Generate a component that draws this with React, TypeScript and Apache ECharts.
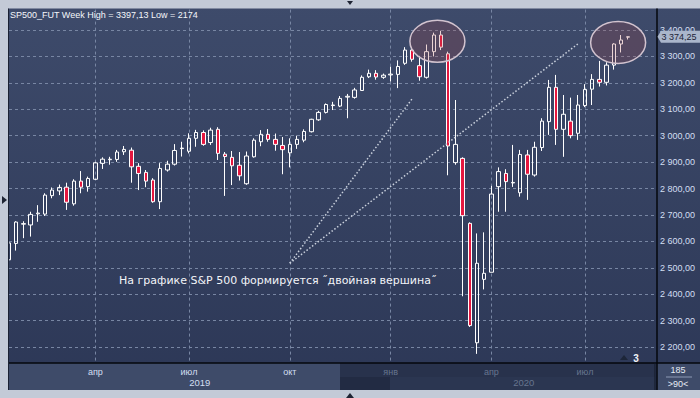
import React, { useEffect, useRef } from 'react';
import * as echarts from 'echarts';

// ---- data ----
const dates = [
  '2019-01-07','2019-01-14','2019-01-21','2019-01-28','2019-02-04','2019-02-11','2019-02-18','2019-02-25',
  '2019-03-04','2019-03-11','2019-03-18','2019-03-25','2019-04-01','2019-04-08','2019-04-15','2019-04-22',
  '2019-04-29','2019-05-06','2019-05-13','2019-05-20','2019-05-27','2019-06-03','2019-06-10','2019-06-17',
  '2019-06-24','2019-07-01','2019-07-08','2019-07-15','2019-07-22','2019-07-29','2019-08-05','2019-08-12',
  '2019-08-19','2019-08-26','2019-09-02','2019-09-09','2019-09-16','2019-09-23','2019-09-30','2019-10-07',
  '2019-10-14','2019-10-21','2019-10-28','2019-11-04','2019-11-11','2019-11-18','2019-11-25','2019-12-02',
  '2019-12-09','2019-12-16','2019-12-23','2019-12-26','2019-12-30','2020-01-02','2020-01-06','2020-01-13',
  '2020-01-20','2020-01-27','2020-02-03','2020-02-10','2020-02-17','2020-02-24','2020-03-02','2020-03-09',
  '2020-03-16','2020-03-23','2020-03-30','2020-04-06','2020-04-13','2020-04-20','2020-04-27','2020-05-04',
  '2020-05-11','2020-05-18','2020-05-25','2020-06-01','2020-06-08','2020-06-15','2020-06-22','2020-06-29',
  '2020-07-06','2020-07-13','2020-07-20','2020-07-27','2020-08-03','2020-08-10','2020-08-17','2020-08-24',
  '2020-08-31','2020-09-07','2020-09-14',
];

const opens = [
  2530, 2592, 2665, 2662, 2704, 2703, 2773, 2791, 2805, 2742, 2828, 2807, 2835, 2895, 2909, 2910,
  2939, 2945, 2884, 2861, 2832, 2750, 2870, 2892, 2951, 2941, 2990, 3012, 2974, 3024, 2930, 2918,
  2888, 2818, 2920, 2977, 3005, 2986, 2963, 2935, 2967, 2983, 3015, 3060, 3088, 3114, 3112, 3146,
  3145, 3171, 3223, 3236, 3221, 3230, 3232, 3274, 3324, 3265, 3221, 3318, 3381, 3310, 2898, 2914,
  2668, 2216, 2456, 2483, 2807, 2857, 2821, 2784, 2927, 2851, 2955, 3053, 3183, 3024, 3055, 3009,
  3114, 3176, 3213, 3202, 3267, 3347, 3373,
];
const closes = [
  2594, 2673, 2667, 2702, 2707, 2775, 2794, 2804, 2748, 2828, 2805, 2838, 2897, 2911, 2911, 2938,
  2948, 2882, 2857, 2828, 2750, 2876, 2892, 2944, 2953, 2990, 3012, 2967, 3021, 2933, 2921, 2886,
  2848, 2923, 2983, 3005, 2986, 2967, 2947, 2967, 2986, 3016, 3062, 3088, 3118, 3116, 3141, 3149,
  3173, 3221, 3236, 3222, 3229, 3233, 3262, 3324, 3289, 3223, 3318, 3381, 3335, 2961, 2967, 2697,
  2281, 2517, 2479, 2779, 2864, 2826, 2823, 2929, 2854, 2956, 3055, 3183, 3024, 3081, 3000, 3116,
  3175, 3213, 3202, 3267, 3347, 3362, 3374.25,
];
const lows = [
  2522, 2565, 2612, 2618, 2674, 2696, 2763, 2775, 2719, 2735, 2782, 2788, 2832, 2874, 2890, 2901,
  2927, 2822, 2794, 2805, 2746, 2722, 2864, 2887, 2921, 2933, 2958, 2962, 2965, 2908, 2772, 2813,
  2830, 2814, 2917, 2960, 2977, 2943, 2854, 2880, 2950, 2975, 3012, 3056, 3084, 3097, 3108, 3066,
  3140, 3170, 3218, 3212, 3215, 3205, 3180, 3268, 3280, 3208, 3216, 3300, 3324, 2850, 2890, 2392,
  2276, 2174, 2418, 2483, 2712, 2712, 2806, 2769, 2757, 2845, 2942, 3003, 2965, 2920, 2990, 2984,
  3108, 3116, 3186, 3190, 3250, 3315, 3364,
];
const highs = [
  2598, 2676, 2676, 2712, 2737, 2782, 2804, 2815, 2822, 2835, 2866, 2845, 2901, 2918, 2920, 2946,
  2961, 2955, 2896, 2870, 2839, 2896, 2905, 2968, 2977, 3009, 3022, 3020, 3030, 3032, 2938, 2942,
  2938, 2940, 2990, 3021, 3025, 3008, 2995, 2990, 3000, 3024, 3064, 3094, 3122, 3128, 3150, 3158,
  3181, 3228, 3250, 3248, 3235, 3261, 3285, 3335, 3335, 3302, 3345, 3390, 3397, 3318, 3135, 2918,
  2672, 2630, 2634, 2810, 2880, 2873, 2965, 2946, 2946, 2977, 3066, 3211, 3230, 3154, 3144, 3154,
  3195, 3233, 3283, 3278, 3350, 3381, 3375,
];

const monthNames = ['янв', 'фев', 'мар', 'апр', 'май', 'июн', 'июл', 'авг', 'сен', 'окт', 'ноя', 'дек'];
const titleText = 'SP500_FUT Week High = 3397,13 Low = 2174';
const annotationText = 'На графике S&P 500 формируется ˝двойная вершина˝';
const counterTop = '185';
const counterBottom = '>90<';
const markerCount = '3';
// dotted trend lines: [start date, start value] -> [end date, end value]
const trendLines = [
  { from: ['2019-10-07', 2517], to: ['2020-01-20', 3140] },
  { from: ['2019-10-07', 2517], to: ['2020-06-29', 3347] },
];
// highlighted tops (centre as bar position and price)
const highlights = [
  { at: 59.5, value: 3357 },
  { at: 84.6, value: 3353 },
];
const brightYear = '2019';

// ---- styles ----
const UI_FONT = '"Liberation Sans", Arial, sans-serif';
const GRID_COLOR = '#7886a3';
const LABEL_COLOR = '#d3dff2';
const DIM_COLOR = '#67758f';
const RED = '#e5173f';

const monthOf = (d: string) => Number(d.slice(5, 7)) - 1;
const yearOf = (d: string) => d.slice(0, 4);
const isQuarterStart = (i: number) =>
  i > 0 && monthOf(dates[i]) !== monthOf(dates[i - 1]) && monthOf(dates[i]) % 3 === 0;

const fmtPrice = (v: number) => {
  const [int, frac] = v.toFixed(2).split('.');
  return int.replace(/\B(?=(\d{3})+(?!\d))/g, ' ') + ',' + frac;
};

export default function App() {
  const ref = useRef<HTMLDivElement>(null);

  useEffect(() => {
    const el = ref.current!;
    const chart = echarts.init(el, null, { renderer: 'svg' });
    const candles = opens.map((o, i) => [o, closes[i], lows[i], highs[i]]);

    const option: any = {
      animation: false,
      grid: [
        { left: 9, right: 43, top: 3.583, bottom: 24.583 },
        { left: 9, right: 43, top: 363, bottom: 8 },
      ],
      xAxis: [
        {
          type: 'category', gridIndex: 0, data: dates, boundaryGap: false,
          axisLine: { show: false }, axisTick: { show: false }, axisLabel: { show: false },
          splitLine: {
            show: true,
            interval: (i: number) => isQuarterStart(i),
            lineStyle: { color: GRID_COLOR, type: [3, 3], width: 1 },
          },
        },
        {
          type: 'category', gridIndex: 1, data: dates, boundaryGap: false, position: 'top', z: 70,
          axisLine: { show: false }, axisTick: { show: false }, splitLine: { show: false },
          axisLabel: {
            inside: true, margin: 4,
            interval: (i: number) => isQuarterStart(i),
            formatter: (v: string) => monthNames[monthOf(v)],
            color: (v: string) => (yearOf(v) === brightYear ? LABEL_COLOR : DIM_COLOR),
            fontSize: 9, fontFamily: UI_FONT,
          },
        },
      ],
      yAxis: [
        {
          type: 'value', gridIndex: 0, position: 'right', min: 2100, max: 3500, interval: 100,
          axisLine: { show: false }, axisTick: { show: false },
          axisLabel: {
            margin: 3, showMinLabel: false, showMaxLabel: false,
            formatter: (v: number) => fmtPrice(v),
            color: LABEL_COLOR, fontSize: 9, fontFamily: UI_FONT,
          },
          splitLine: { show: true, lineStyle: { color: GRID_COLOR, type: [3, 3], width: 1 } },
        },
        { type: 'value', gridIndex: 1, show: false },
      ],
      series: [
        {
          type: 'candlestick', xAxisIndex: 0, yAxisIndex: 0, data: candles, barWidth: 4, clip: true,
          itemStyle: {
            color: 'rgba(0,0,0,0)', color0: RED,
            borderColor: '#ffffff', borderColor0: '#ffffff', borderWidth: 1,
          },
          markLine: {
            silent: true, symbol: ['none', 'none'], label: { show: false },
            lineStyle: { color: '#c9d0dc', width: 1.5, type: [1.5, 2] },
            data: trendLines.map((t) => [{ coord: t.from }, { coord: t.to }]),
          },
        },
      ],
    };
    chart.setOption(option);

    const P = (i: number, v: number) =>
      chart.convertToPixel({ xAxisIndex: 0, yAxisIndex: 0 }, [i, v]) as number[];
    const a = P(0, 3400);
    const b = P(1, 3400);
    const dx = b[0] - a[0];
    const X = (i: number) => a[0] + i * dx;
    const Y = (v: number) => P(0, v)[1];

    const plotLeft = X(0);
    const plotRight = X(dates.length - 1);
    const bandTop = 363;
    const bandMid = 377;
    const bandBottom = 390;
    const splitX = 340;

    // year label centres
    const years: string[] = [];
    dates.forEach((d) => { if (!years.includes(yearOf(d))) years.push(yearOf(d)); });
    const yearTexts = years.map((y, k) => {
      const first = dates.findIndex((d) => yearOf(d) === y);
      const nextYear = years[k + 1];
      const endX = nextYear ? X(dates.findIndex((d) => yearOf(d) === nextYear)) : plotRight;
      const cx = (X(first) + endX) / 2;
      return {
        type: 'text', x: cx, y: 382.5, z: 60, silent: true,
        style: {
          text: y, fill: y === brightYear ? LABEL_COLOR : DIM_COLOR, font: `9.5px ${UI_FONT}`,
          textAlign: 'center', textVerticalAlign: 'middle', align: 'center', verticalAlign: 'middle',
        },
      };
    });

    const lastClose = closes[closes.length - 1];
    const tagY = Y(lastClose);
    const grey = '#c3cad7';

    const txt = (text: string, x: number, y: number, fill: string, font: string, align = 'left', z = 60) => ({
      type: 'text', x, y, z, silent: true,
      style: { text, fill, font, textAlign: align, textVerticalAlign: 'middle', align, verticalAlign: 'middle' },
    });

    const graphic: any[] = [
      ...highlights.map((h) => ({
        type: 'ellipse', z: 10, silent: true,
        shape: { cx: X(h.at), cy: Y(h.value), rx: 27.5, ry: 21 },
        style: { fill: 'rgba(170,70,70,0.23)', stroke: '#d2c3cf', lineWidth: 1.5 },
      })),
      txt(annotationText, 119, 280.5, '#f2f4f8', '11px "DejaVu Sans", sans-serif', 'left', 20),
      txt(titleText, 10, 15, '#f4f6fa', `9px ${UI_FONT}`, 'left', 20),
      // small marker above the time band
      { type: 'polygon', z: 20, silent: true, shape: { points: [[620, 360], [624, 355], [628, 360]] }, style: { fill: '#1d2639' } },
      txt(markerCount, 636, 358, '#eef2f8', `bold 10px ${UI_FONT}`, 'center', 20),
      // frame
      { type: 'rect', z: 50, silent: true, shape: { x: 0, y: 0, width: 700, height: 8.5 }, style: { fill: grey } },
      { type: 'rect', z: 50, silent: true, shape: { x: 0, y: 0, width: 8.5, height: 398 }, style: { fill: grey } },
      { type: 'rect', z: 50, silent: true, shape: { x: 0, y: bandBottom, width: 700, height: 8 }, style: { fill: grey } },
      // time band
      { type: 'rect', z: 50, silent: true, shape: { x: plotLeft, y: bandTop, width: splitX - plotLeft, height: bandBottom - bandTop }, style: { fill: '#3e4b69' } },
      { type: 'rect', z: 50, silent: true, shape: { x: splitX, y: bandTop, width: plotRight - 2 - splitX, height: bandMid - bandTop }, style: { fill: '#28324c' } },
      { type: 'rect', z: 50, silent: true, shape: { x: splitX, y: bandMid, width: 50, height: bandBottom - bandMid }, style: { fill: '#222b43' } },
      { type: 'rect', z: 50, silent: true, shape: { x: splitX + 50, y: bandMid, width: plotRight - 2 - splitX - 50, height: bandBottom - bandMid }, style: { fill: '#2b3651' } },
      { type: 'rect', z: 50, silent: true, shape: { x: plotRight, y: bandTop, width: 700 - plotRight, height: bandBottom - bandTop }, style: { fill: '#3e4b69' } },
      // black separators
      { type: 'line', z: 55, silent: true, shape: { x1: 8.5, y1: 8.5, x2: 8.5, y2: bandBottom }, style: { stroke: '#1a2133', lineWidth: 1 } },
      { type: 'line', z: 55, silent: true, shape: { x1: plotLeft, y1: bandTop, x2: 700, y2: bandTop }, style: { stroke: '#05070c', lineWidth: 1.5 } },
      { type: 'line', z: 55, silent: true, shape: { x1: plotRight, y1: 8.5, x2: plotRight, y2: bandBottom }, style: { stroke: '#05070c', lineWidth: 1.5 } },
      { type: 'line', z: 55, silent: true, shape: { x1: plotRight - 2, y1: bandTop, x2: plotRight - 2, y2: bandBottom }, style: { stroke: '#121826', lineWidth: 1 } },
      { type: 'line', z: 55, silent: true, shape: { x1: 666, y1: bandMid, x2: 692, y2: bandMid }, style: { stroke: '#8c9ab5', lineWidth: 1 } },
      // frame arrows
      { type: 'polygon', z: 56, silent: true, shape: { points: [[347, 1], [353, 1], [350, 5]] }, style: { fill: '#1e2433' } },
      { type: 'polygon', z: 56, silent: true, shape: { points: [[2, 196], [7, 200], [2, 204]] }, style: { fill: '#1e2433' } },
      { type: 'polygon', z: 56, silent: true, shape: { points: [[346, 398], [350, 393], [354, 398]] }, style: { fill: '#1e2433' } },
      // band texts
      ...yearTexts,
      txt(counterTop, 678, 370, '#e6ecf5', `9px ${UI_FONT}`, 'center'),
      txt(counterBottom, 678, 383.5, '#e6ecf5', `9px ${UI_FONT}`, 'center'),
      // last price tag
      {
        type: 'polygon', z: 60, silent: true,
        shape: { points: [[plotRight + 0.5, tagY], [plotRight + 4, tagY - 6], [700, tagY - 6], [700, tagY + 6], [plotRight + 4, tagY + 6]] },
        style: { fill: '#aab6cb' },
      },
      txt(fmtPrice(lastClose), plotRight + 4.5, tagY, '#1c2438', `9px ${UI_FONT}`, 'left', 61),
    ];
    chart.setOption({ graphic });

    return () => chart.dispose();
  }, []);

  return (
    <div
      ref={ref}
      style={{
        position: 'absolute', left: 0, top: 0, width: 700, height: 398,
        background: 'linear-gradient(to bottom, #3e4b6b 0%, #2c3756 100%)',
      }}
    />
  );
}
